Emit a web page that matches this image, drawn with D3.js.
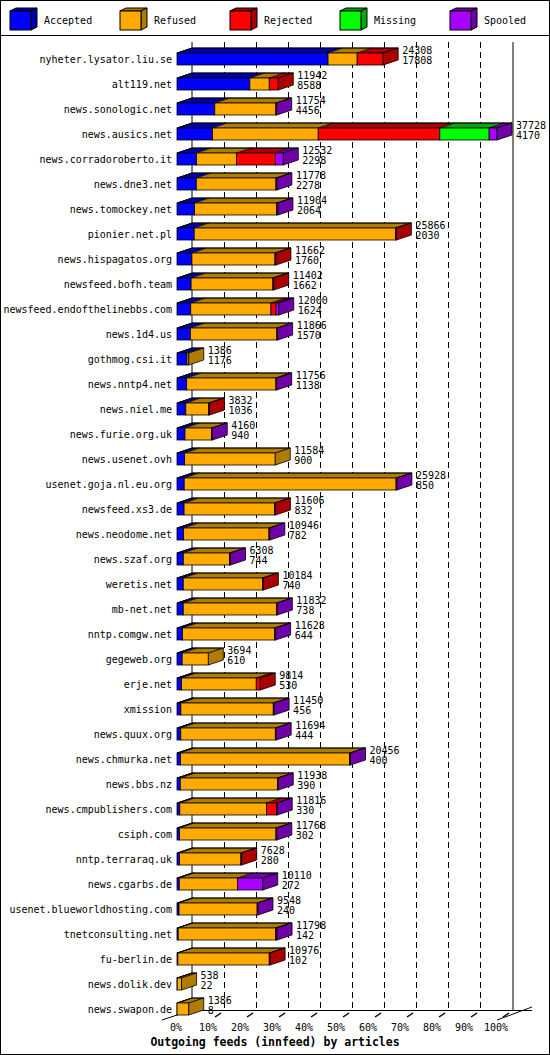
<!DOCTYPE html>
<html>
<head>
<meta charset="utf-8">
<script src="https://cdn.jsdelivr.net/npm/d3@7"></script>
<style>
  body { margin: 0; background: #fff; }
  text { font-family: "DejaVu Sans Mono", monospace; font-size: 10px; fill: #000; }
</style>
</head>
<body>
<svg id="chart" width="550" height="1055"></svg>
<script>
var hosts = ["nyheter.lysator.liu.se","alt119.net","news.sonologic.net","news.ausics.net","news.corradoroberto.it","news.dne3.net","news.tomockey.net","pionier.net.pl","news.hispagatos.org","newsfeed.bofh.team","newsfeed.endofthelinebbs.com","news.1d4.us","gothmog.csi.it","news.nntp4.net","news.niel.me","news.furie.org.uk","news.usenet.ovh","usenet.goja.nl.eu.org","newsfeed.xs3.de","news.neodome.net","news.szaf.org","weretis.net","mb-net.net","nntp.comgw.net","gegeweb.org","erje.net","xmission","news.quux.org","news.chmurka.net","news.bbs.nz","news.cmpublishers.com","csiph.com","nntp.terraraq.uk","news.cgarbs.de","usenet.blueworldhosting.com","tnetconsulting.net","fu-berlin.de","news.dolik.dev","news.swapon.de"];
var totals = [24308,11942,11754,37728,12532,11778,11904,25866,11662,11402,12000,11866,1386,11756,3832,4160,11584,25928,11606,10946,6308,10184,11832,11628,3694,9814,11450,11694,20456,11938,11816,11768,7628,10110,9548,11798,10976,538,1386];
var accepted = [17808,8588,4456,4170,2298,2278,2064,2030,1760,1662,1624,1570,1176,1138,1036,940,900,850,832,782,744,740,738,644,610,530,456,444,400,390,330,302,280,272,240,142,102,22,8];
var refused = [3437,2290,7198,12480,4732,9387,9681,23736,9787,9640,9453,10196,210,10518,2696,3145,10684,24978,10674,10064,5464,9344,10994,10884,3084,8815,10894,11150,19956,11448,10235,11366,7248,6878,9208,11496,10774,516,1378];
var rejected = [3063,1064,0,14340,4560,0,0,100,115,100,588,0,0,0,100,0,0,0,100,0,0,100,0,0,0,469,0,0,0,0,1180,0,100,0,0,60,100,0,0];
var missing = [0,0,0,5810,0,0,0,0,0,0,0,0,0,0,0,0,0,0,0,0,0,0,0,0,0,0,0,0,0,0,0,0,0,0,0,0,0,0,0];
var spooled = [0,0,100,928,942,113,159,0,0,0,335,100,0,100,0,75,0,100,0,100,100,0,100,100,0,0,100,100,100,100,71,100,0,2960,100,100,0,0,0];
var seriesNames = ["Accepted","Refused","Rejected","Missing","Spooled"];
var seriesFill = ["#0000ff","#ffaa00","#ff0000","#00ff00","#aa00ff"];
var seriesDark = ["#0000a8","#b07c00","#aa0000","#00aa00","#7000a8"];
var tickPct = [0,10,20,30,40,50,60,70,80,90,100];

var svg = d3.select("#chart");
var dx = 15, dy = 5, barH = 12, rowStep = 25, top0 = 53;
var x = d3.scaleLinear().domain([0, d3.max(totals)]).range([177, 497]);
var pct = d3.scaleLinear().domain([0, 100]).range([177, 497]);
var yTop = function(i) { return top0 + i * rowStep; };
var floorY = 1020;

// frame
svg.append("rect").attr("x", 0.5).attr("y", 0.5).attr("width", 549).attr("height", 1054)
  .attr("fill", "none").attr("stroke", "#000");
svg.append("line").attr("x1", 0).attr("x2", 550).attr("y1", 35.5).attr("y2", 35.5).attr("stroke", "#000");

// legend
seriesNames.forEach(function(name, k) {
  var lx = 10 + k * 110, ly = 11, w = 21, h = 19, ldx = 6, ldy = 3;
  var g = svg.append("g");
  g.append("path").attr("d", "M" + lx + "," + ly + "l" + ldx + "," + (-ldy) + "h" + w + "l" + (-ldx) + "," + ldy + "z")
    .attr("fill", seriesDark[k]).attr("stroke", "#000");
  g.append("path").attr("d", "M" + (lx + w) + "," + ly + "l" + ldx + "," + (-ldy) + "v" + h + "l" + (-ldx) + "," + ldy + "z")
    .attr("fill", seriesDark[k]).attr("stroke", "#000");
  g.append("rect").attr("x", lx).attr("y", ly).attr("width", w).attr("height", h)
    .attr("fill", seriesFill[k]).attr("stroke", "#000");
  g.append("text").attr("x", lx + 34).attr("y", 24).text(name);
});

// back plane
var backL = pct(0) + dx, backR = pct(100) + dx + 1, backTop = 42, backBot = floorY - dy * 2;
svg.append("line").attr("x1", backL).attr("x2", backL).attr("y1", backTop).attr("y2", backBot).attr("stroke", "#000");
svg.append("line").attr("x1", backR).attr("x2", backR).attr("y1", backTop).attr("y2", backBot).attr("stroke", "#000");
tickPct.slice(1, 10).forEach(function(p) {
  svg.append("line").attr("x1", pct(p) + dx + 0.5).attr("x2", pct(p) + dx + 0.5)
    .attr("y1", backTop).attr("y2", backBot).attr("stroke", "#000").attr("stroke-dasharray", "6,4");
});
// floor
svg.append("line").attr("x1", backL).attr("x2", 532).attr("y1", backBot + 0.5).attr("y2", backBot + 0.5).attr("stroke", "#000");
svg.append("line").attr("x1", pct(0) - 15).attr("y1", floorY).attr("x2", backL).attr("y2", backBot).attr("stroke", "#000");
svg.append("line").attr("x1", pct(100)).attr("y1", floorY).attr("x2", 532).attr("y2", backBot - 3).attr("stroke", "#000");
tickPct.slice(1).forEach(function(p) {
  var fx = pct(p) + 6;
  svg.append("line").attr("x1", fx).attr("y1", floorY - 3).attr("x2", fx + 6).attr("y2", floorY - 7)
    .attr("stroke", "#000").attr("stroke-width", 1.5);
});
svg.selectAll(".xt").data(tickPct).enter().append("text")
  .attr("x", function(p) { return pct(p) - 1; }).attr("y", 1031)
  .attr("text-anchor", "middle").text(function(p) { return p + "%"; });
svg.append("text").attr("x", 275).attr("y", 1046).attr("text-anchor", "middle")
  .style("font-weight", "bold").style("font-size", "11.5px")
  .text("Outgoing feeds (innfeed) by articles");

// bars
var seriesVals = [accepted, refused, rejected, missing, spooled];
hosts.forEach(function(host, i) {
  var ty = yTop(i);
  var g = svg.append("g");
  var start = 0, lastK = 0;
  var segs = [];
  seriesVals.forEach(function(vals, k) {
    var v = vals[i];
    if (v > 0) { segs.push({k: k, a: start, b: start + v}); start += v; lastK = k; }
  });
  segs.forEach(function(s) {
    var x0 = x(s.a), x1 = x(s.b);
    g.append("path").attr("d", "M" + x0 + "," + ty + "l" + dx + "," + (-dy) + "H" + (x1 + dx) + "l" + (-dx) + "," + dy + "z")
      .attr("fill", seriesDark[s.k]).attr("stroke", "#000").attr("stroke-width", 0.6);
  });
  segs.forEach(function(s) {
    var x0 = x(s.a), x1 = x(s.b);
    g.append("rect").attr("x", x0).attr("y", ty).attr("width", Math.max(x1 - x0, 0.5)).attr("height", barH)
      .attr("fill", seriesFill[s.k]).attr("stroke", "#000").attr("stroke-width", 0.8);
  });
  var xe = x(start);
  g.append("path").attr("d", "M" + xe + "," + ty + "l" + dx + "," + (-dy) + "v" + barH + "l" + (-dx) + "," + dy + "z")
    .attr("fill", seriesDark[lastK]).attr("stroke", "#000").attr("stroke-width", 0.8);
  // top outline
  g.append("path").attr("d", "M" + x(0) + "," + ty + "l" + dx + "," + (-dy) + "H" + (xe + dx))
    .attr("fill", "none").attr("stroke", "#000").attr("stroke-width", 1);
  svg.append("text").attr("x", 172).attr("y", ty + 10).attr("text-anchor", "end").text(host);
  svg.append("text").attr("x", xe + dx + 4).attr("y", ty + 1).text(totals[i]);
  svg.append("text").attr("x", xe + dx + 4).attr("y", ty + 11).text(accepted[i]);
});
</script>
</body>
</html>
